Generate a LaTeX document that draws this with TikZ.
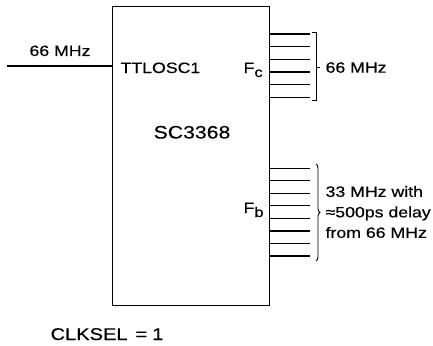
\documentclass[tikz,border=0pt]{standalone}
\usepackage{fontspec}
\setmainfont{Liberation Sans}[FakeStretch=1.18, FakeBold=0.4]
\usetikzlibrary{calc, decorations.pathreplacing}

\begin{document}
\begin{tikzpicture}[x=1pt, y=-1pt, line width=1.2pt,
    lbl/.style={inner sep=0pt, font=\fontsize{15}{20.5}\selectfont},
    pinline/.style={line width=1.1pt},
    bracketline/.style={line width=0.9pt}]
    \useasboundingbox (0,0) rectangle (433,345);

    % Chip body
    \node[draw, line width=1.3pt, minimum width=157pt, minimum height=299pt,
        inner sep=0pt, anchor=north west] (chip) at (111.5,6) {};
    \node[lbl, anchor=base, font=\fontsize{18}{20}\selectfont] (name) at (192,138.5) {SC3368};

    % Clock input
    \coordinate (clkin) at (7,66);
    \draw (clkin) -- (clkin -| chip.west);
    \node[lbl, anchor=base] (inlbl) at (60,56) {66 MHz};
    \node[lbl, anchor=base west] (osc) at (120,73) {TTLOSC1};

    % Fc outputs
    \node[lbl, anchor=base west] (fc) at (243,73) {F\raisebox{-4pt}{\fontsize{14}{14}\selectfont c}};
    \foreach \i in {0,...,5} {
        \coordinate (fc\i) at (310,{34+12.67*\i});
        \draw[pinline] (fc\i -| chip.east) -- (fc\i);
    }
    \draw[bracketline] (312,32) -- (316,32) -- (316,100) -- (312,100);
    \draw[bracketline] (316,67) -- (320,67);
    \node[lbl, anchor=base west] (fctxt) at (325,72.7) {66 MHz};

    % Fb outputs
    \node[lbl, anchor=base west] (fb) at (243,213) {F\raisebox{-4pt}{\fontsize{14}{14}\selectfont b}};
    \foreach \i in {0,...,7} {
        \coordinate (fb\i) at (310,{168.3+12.53*\i});
        \draw[pinline] (fb\i -| chip.east) -- (fb\i);
    }
    \draw[bracketline, decorate, decoration={brace, amplitude=4pt}] (316,164) -- (316,261);
    \node[lbl, anchor=west, align=left] (fbtxt) at (325,212)
        {33 MHz with\\≈500ps delay\\from 66 MHz};

    % Clock select
    \node[lbl, anchor=base west, font=\fontsize{17}{20}\selectfont] (sel) at (50,340)
        {CLKSEL\hspace{8pt}=\hspace{5pt}1};
\end{tikzpicture}
\end{document}
